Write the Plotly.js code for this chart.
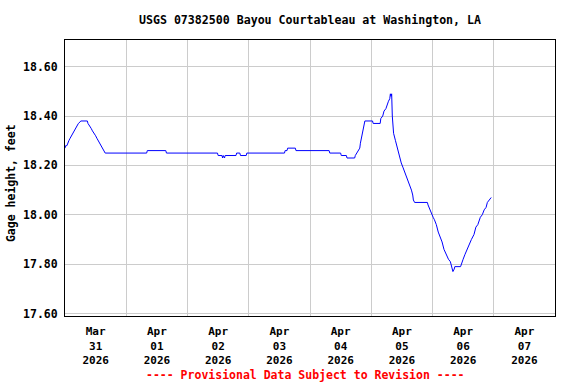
<!DOCTYPE html>
<html>
<head>
<meta charset="utf-8">
<script src="https://cdn.plot.ly/plotly-3.0.1.min.js"></script>
<style>html,body{margin:0;padding:0;background:#fff;}#chart{width:576px;height:384px;}</style>
</head>
<body>
<div id="chart"></div>
<script>
const times = [
"2026-03-31 00:00","2026-03-31 00:15","2026-03-31 00:45","2026-03-31 01:00","2026-03-31 01:30","2026-03-31 02:00","2026-03-31 02:30","2026-03-31 03:00","2026-03-31 03:30","2026-03-31 04:00","2026-03-31 04:45","2026-03-31 05:15","2026-03-31 06:15","2026-03-31 08:45","2026-03-31 09:00","2026-03-31 09:45","2026-03-31 10:15","2026-03-31 10:45","2026-03-31 11:30","2026-03-31 12:00","2026-03-31 12:30","2026-03-31 13:00","2026-03-31 13:30","2026-03-31 14:00","2026-03-31 14:30","2026-03-31 15:00","2026-03-31 15:45",
"2026-04-01 08:00","2026-04-01 08:15","2026-04-01 15:30","2026-04-01 15:45",
"2026-04-02 11:45","2026-04-02 12:00","2026-04-02 13:30","2026-04-02 13:45","2026-04-02 14:00","2026-04-02 14:30","2026-04-02 14:45","2026-04-02 19:00","2026-04-02 19:15","2026-04-02 20:30","2026-04-02 20:45","2026-04-02 23:00","2026-04-02 23:15",
"2026-04-03 14:00","2026-04-03 14:15","2026-04-03 15:00","2026-04-03 15:15","2026-04-03 18:15","2026-04-03 18:30",
"2026-04-04 07:30","2026-04-04 07:45","2026-04-04 12:00","2026-04-04 12:15","2026-04-04 14:15","2026-04-04 14:30","2026-04-04 17:30","2026-04-04 17:45","2026-04-04 18:15","2026-04-04 18:45","2026-04-04 19:30","2026-04-04 19:45","2026-04-04 20:15","2026-04-04 20:45","2026-04-04 21:00","2026-04-04 21:30",
"2026-04-05 00:30","2026-04-05 00:45","2026-04-05 03:30","2026-04-05 03:45","2026-04-05 04:30","2026-04-05 05:00","2026-04-05 05:45","2026-04-05 06:15","2026-04-05 06:45","2026-04-05 07:15","2026-04-05 07:30","2026-04-05 07:45","2026-04-05 08:00","2026-04-05 08:15","2026-04-05 08:30","2026-04-05 08:45","2026-04-05 09:30","2026-04-05 10:00","2026-04-05 10:30","2026-04-05 11:15","2026-04-05 11:45","2026-04-05 12:30","2026-04-05 13:15","2026-04-05 14:30","2026-04-05 15:00","2026-04-05 15:45","2026-04-05 16:15","2026-04-05 16:30","2026-04-05 17:00","2026-04-05 22:00","2026-04-05 22:15","2026-04-05 23:00","2026-04-05 23:15",
"2026-04-06 00:15","2026-04-06 00:45","2026-04-06 01:30","2026-04-06 02:15","2026-04-06 03:00","2026-04-06 03:45","2026-04-06 04:30","2026-04-06 05:15","2026-04-06 06:15","2026-04-06 07:00","2026-04-06 07:30","2026-04-06 08:00","2026-04-06 08:30","2026-04-06 08:45","2026-04-06 11:00","2026-04-06 11:15","2026-04-06 12:00","2026-04-06 12:45","2026-04-06 13:30","2026-04-06 14:30","2026-04-06 15:15","2026-04-06 16:15","2026-04-06 17:00","2026-04-06 17:45","2026-04-06 18:45","2026-04-06 19:30","2026-04-06 20:15","2026-04-06 21:00","2026-04-06 21:30","2026-04-06 22:15","2026-04-06 23:00"
];
const gageHeight = [
18.27,18.28,18.28,18.29,18.30,18.31,18.32,18.33,18.34,18.35,18.36,18.37,18.38,18.38,18.37,18.36,18.35,18.34,18.33,18.32,18.31,18.30,18.29,18.28,18.27,18.26,18.25,
18.25,18.26,18.26,18.25,
18.25,18.24,18.24,18.23,18.24,18.23,18.24,18.24,18.25,18.25,18.24,18.24,18.25,
18.25,18.26,18.26,18.27,18.27,18.26,
18.26,18.25,18.25,18.24,18.24,18.23,18.23,18.24,18.25,18.26,18.27,18.29,18.32,18.34,18.36,18.38,
18.38,18.37,18.37,18.39,18.40,18.42,18.43,18.45,18.46,18.47,18.49,18.48,18.49,18.40,18.37,18.33,18.30,18.28,18.25,18.23,18.21,18.19,18.17,18.14,18.12,18.10,18.08,18.06,18.05,18.05,18.04,18.02,18.01,
17.99,17.98,17.96,17.93,17.91,17.89,17.86,17.84,17.82,17.81,17.79,17.77,17.78,17.79,17.79,17.80,17.82,17.84,17.86,17.88,17.90,17.92,17.95,17.96,17.99,18.00,18.02,18.03,18.05,18.06,18.07
];
const tickDates = ["2026-03-31 12:00","2026-04-01 12:00","2026-04-02 12:00","2026-04-03 12:00","2026-04-04 12:00","2026-04-05 12:00","2026-04-06 12:00","2026-04-07 12:00"];
const tickLabels = ["Mar<br>31<br>2026","Apr<br>01<br>2026","Apr<br>02<br>2026","Apr<br>03<br>2026","Apr<br>04<br>2026","Apr<br>05<br>2026","Apr<br>06<br>2026","Apr<br>07<br>2026"];
const yTicks = [17.6, 17.8, 18.0, 18.2, 18.4, 18.6];
const xRange = ["2026-03-31 00:00","2026-04-08 00:00"];
const yRange = [17.59, 18.708];
const chartTitle = "USGS 07382500 Bayou Courtableau at Washington, LA";
const yTitle = "Gage height, feet";
const footer = "---- Provisional Data Subject to Revision ----";

const mono = "DejaVu Sans Mono, Liberation Mono, monospace";

Plotly.newPlot("chart", [{
  x: times, y: gageHeight, type: "scatter", mode: "lines",
  line: {color: "#0000ff", width: 1}, hoverinfo: "skip"
}], {
  width: 576, height: 384,
  margin: {l: 65, r: 21, t: 40, b: 68, pad: 0},
  paper_bgcolor: "#ffffff", plot_bgcolor: "#ffffff",
  showlegend: false,
  font: {family: mono, size: 12, color: "#000", weight: "bold"},
  title: {text: chartTitle, font: {family: mono, size: 11.6, color: "#000", weight: "bold"},
          x: 0.5, xref: "paper", y: 1 - 20/384, yref: "container", yanchor: "middle"},
  xaxis: {
    type: "date", range: xRange, tickmode: "array", tickvals: tickDates, ticktext: tickLabels,
    showgrid: false, ticks: "", ticklabelstandoff: 5,
    tickfont: {family: mono, size: 11, color: "#000", weight: "bold"},
    showline: true, linecolor: "#000", linewidth: 1, mirror: true, zeroline: false,
    minor: {tick0: "2026-03-31 00:00", dtick: 86400000, showgrid: true, gridcolor: "#cccccc", gridwidth: 1, ticks: ""}
  },
  yaxis: {
    range: yRange, tickmode: "array", tickvals: yTicks, tickformat: ".2f",
    showgrid: true, gridcolor: "#cccccc", gridwidth: 1, ticks: "", ticklabelstandoff: 4,
    tickfont: {family: mono, size: 11.5, color: "#000", weight: "bold"},
    showline: true, linecolor: "#000", linewidth: 1, mirror: true, zeroline: false
  },
  annotations: [{
    text: yTitle, xref: "paper", yref: "paper", x: -0.110, y: 0.482, xanchor: "center", yanchor: "middle",
    textangle: -90, showarrow: false, font: {family: mono, size: 11.5, color: "#000", weight: "bold"}
  }, {
    text: footer, xref: "paper", yref: "paper", x: 0.49, y: -0.214, xanchor: "center", yanchor: "middle",
    showarrow: false, font: {family: mono, size: 11.5, color: "#ff0000", weight: "bold"}
  }]
}, {staticPlot: true, displayModeBar: false});
</script>
</body>
</html>
